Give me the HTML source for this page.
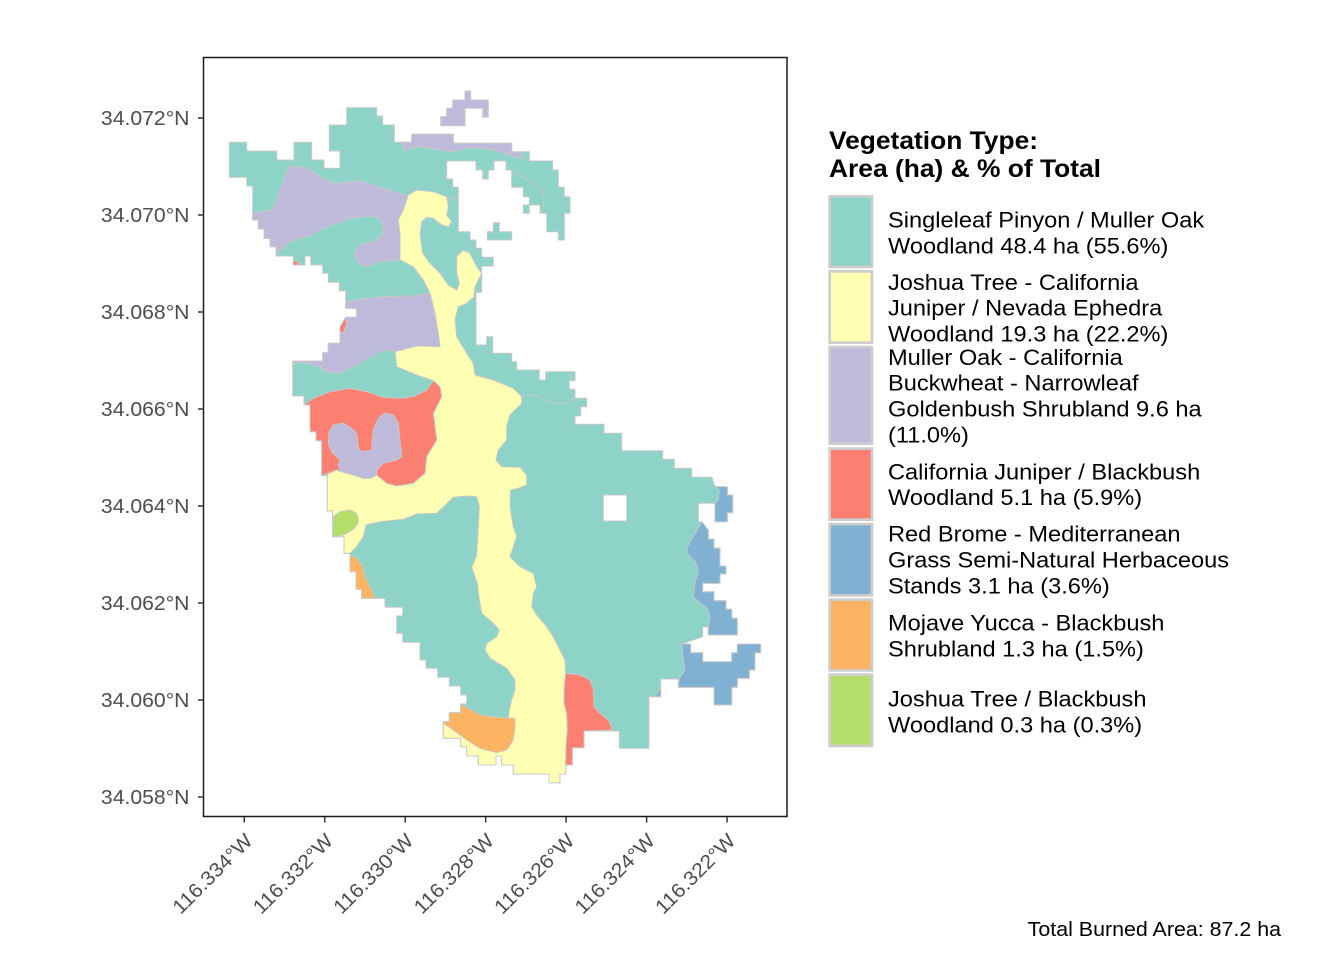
<!DOCTYPE html>
<html><head><meta charset="utf-8"><style>
html,body{margin:0;padding:0;background:#fff;}
svg{display:block;font-family:"Liberation Sans",Arial,sans-serif;}
</style></head><body>
<svg width="1344" height="960" viewBox="0 0 1344 960" xmlns="http://www.w3.org/2000/svg">
<rect width="1344" height="960" fill="#fff"/>
<g stroke="#C8C8C8" stroke-width="1" stroke-linejoin="round">
<!-- teal base -->
<polygon fill="#8DD3C7" points="229.3,142.3 246.7,142.3 246.7,151 276.7,151 276.7,160 294,160 294,142.3 311.7,142.3 311.7,160 324,160 324,168.3 340,168.3 340,151 329.3,151 329.3,125 346.7,125 346.7,107.7 376.7,107.7 376.7,116 382.7,116 382.7,125 394.3,125 394.3,142.3 411.7,142.3 411.7,134.3 453.3,134.3 453.3,143.3 511.7,143.3 511.7,151.7 529.3,151.7 529.3,161 552.7,161 552.7,170 558.3,170 558.3,187.3 564.3,187.3 564.3,196.7 570,196.7 570,213.3 564.3,213.3 564.3,240 558.3,240 558.3,231.7 546.7,231.7 546.7,213.3 540,213.3 540,205 529.3,205 529.3,196.7 523.3,196.7 523.3,187.3 511.7,187.3 511.7,170 506,170 506,161 494,161 494,170 488.3,170 488.3,179 482.7,179 482.7,170 476,170 476,161 446.7,161 446.7,179 452.7,179 452.7,187.3 458.3,187.3 458.3,231.7 470,231.7 470,240 476,240 476,248.3 481.7,248.3 481.7,257.3 493.3,257.3 493.3,266 481.7,266 481.7,292.3 476,292.3 476,345 486.7,345 486.7,336.7 492.7,336.7 492.7,353.3 511.7,353.3 511.7,361.7 516.7,361.7 516.7,370 539.3,370 539.3,380 545.7,380 545.7,371.7 575,371.7 575,380.7 569.3,380.7 569.3,389.3 575,389.3 575,398.3 586.7,398.3 586.7,406.7 580.7,406.7 580.7,416 575,416 575,424.3 604,424.3 604,433.3 621.7,433.3 621.7,450.7 662.7,450.7 662.7,459.3 674.3,459.3 674.3,468.3 691.7,468.3 691.7,477.3 711.7,477.3 715,486.7 727.3,486.7 727.3,495 732.7,495 732.7,512.7 727.3,512.7 727.3,521.7 715,521.7 715,503.3 698.3,503.3 698.3,521.7 701.7,521.7 708.3,530 708.3,539.3 714,539.3 714,548.3 720,548.3 720,566 726,566 726,574 720,574 720,583.3 702.7,583.3 702.7,591.7 714,591.7 714,600.7 726,600.7 726,609.3 731.7,609.3 731.7,618.3 737.3,618.3 737.3,635 708.3,635 708.3,626.7 702.7,626.7 702.7,636.7 681.7,644 690.7,644 690.7,652.7 702.7,652.7 702.7,661.7 731.7,661.7 731.7,652.7 737.3,652.7 737.3,644 760.7,644 760.7,652.7 755,652.7 755,670 749.3,670 749.3,678.3 737.3,678.3 737.3,687.3 731.7,687.3 731.7,705 714,705 714,687.3 678.3,687.3 678.3,679 660.7,679 660.7,696.7 649,696.7 649,748.3 619.3,748.3 619.3,731 584,731 584,747.7 572.3,747.7 572.3,765 565.7,765 565.7,774 560,774 560,782.7 549,782.7 549,774 513.3,774 513.3,765 501.7,765 501.7,756 496,756 496,765 478.3,765 478.3,756 466.7,756 466.7,746.7 460.7,746.7 460.7,738.3 443.3,738.3 443.3,721.7 449.3,721.7 449.3,712.7 460.7,712.7 460.7,704 466.7,704 466.7,695 460.7,695 460.7,686 449.3,686 449.3,677.3 437.7,677.3 437.7,668.3 426,668.3 426,660 420,660 420,642.3 402.7,642.3 402.7,633.3 396.7,633.3 396.7,616 402.7,616 402.7,607.3 385,607.3 385,598.3 361.7,598.3 361.7,589.3 356,589.3 356,571.7 350,571.7 350,553.3 344,553.3 344,536.7 332.7,536.7 332.7,510.7 327.3,510.7 327.3,475.7 321.7,475.7 321.7,440.7 316,440.7 316,431.7 310,431.7 310,405 304,405 304,396 292.7,396 292.7,361 322.7,361 322.7,352.7 328.3,352.7 328.3,343.3 340,343.3 340,326.7 345.7,317.3 356.7,317.3 356.7,308.3 345.7,308.3 345.7,290.7 339.3,290.7 339.3,282.3 328.3,282.3 328.3,273.3 322.7,273.3 322.7,265 310.7,265 310.7,256 305,256 305,265 293.3,265 293.3,256 276,256 276,246.7 270,246.7 270,238.3 264,238.3 264,229 258.3,229 258.3,220 252.7,220 252.7,186 246.7,186 246.7,177.3 229.3,177.3"/>
<!-- isolated teal bits -->
<polygon fill="#8DD3C7" points="523.3,205 529.3,205 529.3,213.3 523.3,213.3"/>
<polygon fill="#8DD3C7" points="493.3,222.7 499.3,222.7 499.3,231.7 511.7,231.7 511.7,240 487.3,240 487.3,231.7 493.3,231.7"/>
<!-- internal teal lines -->
<polyline fill="none" points="511.7,170 521.7,176.7 533.3,183.3 541.7,190 544,196.7 543.3,205 540.7,211.7"/>
<polyline fill="none" points="521,395 535,395 553.3,403.3 566.7,403.3 575,398.3 586.7,398.3"/>
<polyline fill="none" points="567.3,371.7 573.3,380.7"/>
<polyline fill="none" points="446.7,200 458.3,196.7"/>
<!-- purple -->
<polygon fill="#BEBADA" points="440.7,125.7 440.7,116.7 446.7,116.7 446.7,108.3 452.7,108.3 452.7,100 465,100 465,91 470.7,91 470.7,100 488.3,100 488.3,117.3 482.7,117.3 482.7,108.3 465,108.3 465,125.7"/>
<polygon fill="#BEBADA" points="401.7,142.3 411.7,142.3 411.7,134.3 453.3,134.3 453.3,143.3 511.7,143.3 511.7,151.7 520,152 522.7,158 516,157.5 505,153.5 490,149 475,147.5 466.7,148.3 456,151.5 445,151 430,148 416.7,146.7 404,150.5"/>
<polygon fill="#BEBADA" points="252.7,213.3 271.7,210 276.7,200 285,176.7 290,166 306.7,167.3 320,176.7 333.3,183.3 360,180.7 383.3,188.3 403.3,195 408.3,195 403.3,210 398.3,220 400,233.3 400,260 393.3,260 380,261.7 366.7,266.7 358.3,262.7 354,253.3 360,245 376.7,240 383.3,233.3 381.7,220 373.3,216 350,218.3 326.7,226.7 310,235 290,241.7 280,250 276,256 276,246.7 270,246.7 270,238.3 264,238.3 264,229 258.3,229 258.3,220 252.7,220"/>
<polygon fill="#BEBADA" points="345.7,301.7 380,296.7 413.3,296 430,293.3 435,313.3 438.3,333.3 440,346.7 430,349.3 416.7,346.7 400,351.7 383.3,350 366.7,358.3 353.3,366.7 338.3,373.3 326.7,371.7 320,366.7 300,361.7 293.3,365 293.3,361 322.7,361 322.7,352.7 328.3,352.7 328.3,343.3 340,343.3 340,326.7 345.7,317.3 356.7,317.3 356.7,308.3 345.7,308.3"/>
<!-- yellow -->
<polygon fill="#FFFFB3" points="408.3,195 416.7,190 433.3,191.7 446.7,196.7 448.3,206.7 446.7,215 451.7,221.7 448.3,226.7 441.7,225 433.3,218.3 426.7,217.3 421.7,221.7 420,233.3 422.7,253.3 430,263.3 440,273.3 448.3,285 456.7,290 459.3,283.3 456.7,273.3 456.7,256.7 463.3,250 470,253.3 476.7,266.7 481.7,273.3 478.3,280 475,286.7 474,296.7 466.7,303.3 458.3,306.7 455,320 456.7,336.7 466.7,353.3 473.3,363.3 475,375 493.3,380 513.3,388.3 521.7,396.7 521.7,403.3 510,415 506.7,426.7 506.7,440 498.3,450 496,460 501.7,466.7 520,467.3 526.7,475 526.7,485 518.3,488.3 510.7,490 510,506.7 513.3,526.7 516.7,536.7 513.3,546.7 510,556.7 520,566.7 533.3,573.3 536.7,586.7 533.3,593.3 531.7,606.7 536.7,615 546.7,626.7 553.3,636.7 560,650 565,660 565.7,673.3 564.3,686.7 564,703.3 566.7,713.3 567.3,730 566,746.7 565.7,765 565.7,774 560,774 560,782.7 549,782.7 549,774 513.3,774 513.3,765 501.7,765 501.7,756 496,756 496,765 478.3,765 478.3,756 466.7,756 466.7,746.7 460.7,746.7 460.7,738.3 443.3,738.3 443.3,721.7 449.3,721.7 449.3,712.7 460.7,712.7 460.7,704 480,715 496.7,717.3 508.3,718.3 509.3,710 511.7,700 515,690 515,680 506.7,668.3 490,658.3 485,650 486.7,643.3 496.7,636.7 499.3,630 491.7,621.7 481.7,613.3 479.3,600 477.3,583.3 471.7,567.3 476.7,555 478.3,526.7 479.3,506.7 476.7,496.7 466.7,496 453.3,497.3 436.7,513.3 416.7,514 403.3,519.3 380,521.7 366,525 363.3,536.7 356.7,546.7 350,553.3 344,553.3 344,536.7 332.7,536.7 332.7,510.7 327.3,510.7 327.3,475.7 328.3,473.3 336.7,470 341.7,471.7 353.3,475 363.3,478.3 370,478.3 376.7,475 386.7,483.3 396.7,486 413.3,483.3 425,473.3 426.7,456.7 431.7,448.3 436.7,440 435,426.7 433.3,413.3 436.7,406.7 441.7,396.7 440,386.7 433.3,380.7 416.7,375 396.7,366.7 395,351.7 416.7,346 440,346.7 438.3,333.3 435,313.3 430,293.3 423.3,280 413.3,266.7 400,260 400,233.3 398.3,220 403.3,210"/>
<!-- red -->
<polygon fill="#FB8072" points="304,405 313.3,398.3 330,391.7 350,388.3 366.7,391.7 383.3,397.3 400,398.3 413.3,396.7 426.7,390 433.3,380.7 440,386.7 441.7,396.7 436.7,406.7 433.3,413.3 435,426.7 436.7,440 431.7,448.3 426.7,456.7 425,473.3 413.3,483.3 396.7,486 386.7,483.3 376.7,475 370,478.3 363.3,478.3 353.3,475 341.7,471.7 336.7,470 328.3,473.3 321.7,475.7 321.7,440.7 316,440.7 316,431.7 310,431.7 310,405"/>
<polygon fill="#BEBADA" points="329.3,431.7 333.3,425 343.3,423.3 351.7,428.3 356.7,433.3 358.3,448.3 361.7,451.7 371.7,450 373.3,430 378.3,418.3 385,413.3 393.3,415 398.3,423.3 400,440 401.7,456.7 396.7,460 383.3,463.3 376.7,470 376.7,475 370,478.3 363.3,478.3 353.3,475 341.7,471.7 338.3,466 340,460 331.7,452 328.3,443.3"/>
<polygon fill="#FB8072" points="565.7,673.3 580,675 590,680 593.3,690 594,706.7 600,713.3 608.3,720 612.7,730 584,731 584,747.7 572.3,747.7 572.3,765 565.7,765 566,746.7 567.3,730 566.7,713.3 564,703.3 564.3,686.7"/>
<polygon fill="#FB8072" points="293.3,260 301.7,265 293.3,265"/>
<polygon fill="#FB8072" points="345.7,317.3 346.7,323.3 343.3,333.3 340,331.7 340,326.7"/>
<!-- blue -->
<polygon fill="#80B1D3" points="715,486.7 727.3,486.7 727.3,495 732.7,495 732.7,512.7 727.3,512.7 727.3,521.7 715,521.7 715,503.3 718.3,500 719.3,490"/>
<polygon fill="#80B1D3" points="701.7,521.7 708.3,530 708.3,539.3 714,539.3 714,548.3 720,548.3 720,566 726,566 726,574 720,574 720,583.3 702.7,583.3 702.7,591.7 714,591.7 714,600.7 726,600.7 726,609.3 731.7,609.3 731.7,618.3 737.3,618.3 737.3,635 708.3,635 708.3,626.7 710,616.7 706.7,608.3 698.3,601.7 693.3,596.7 695,583.3 698.3,570 695,561.7 688.3,555 686.7,548.3 695,533.3"/>
<polygon fill="#80B1D3" points="681.7,644 683.3,660 685,670 679.3,678.3 678.3,687.3 714,687.3 714,705 731.7,705 731.7,687.3 737.3,687.3 737.3,678.3 749.3,678.3 749.3,670 755,670 755,652.7 760.7,652.7 760.7,644 737.3,644 737.3,652.7 731.7,652.7 731.7,661.7 702.7,661.7 702.7,652.7 690.7,652.7 690.7,644"/>
<polygon fill="#80B1D3" points="655,696.7 660.7,688 660.7,696.7"/>
<!-- orange -->
<polygon fill="#FDB462" points="460.7,704 480,715 496.7,717.3 515,718.3 515,726.7 513.3,740 506.7,750 496.7,752.7 480,748.3 466.7,740 453.3,730 443.3,723.3 443.3,721.7 449.3,721.7 449.3,712.7 460.7,712.7"/>
<polygon fill="#FDB462" points="350,555 356.7,558.3 361.7,565 365,576.7 370,586.7 375,598.3 361.7,598.3 361.7,589.3 356,589.3 356,571.7 350,571.7"/>
<!-- green -->
<polygon fill="#B3DE69" points="333.3,516.7 340,511.7 350,510 356,513 358.3,518 358.3,523.3 353.3,529.3 343.3,535 332.7,536.7"/>
<!-- hole -->
<rect x="603.3" y="495" width="23.4" height="26" fill="#fff"/>
</g>
<!-- panel border -->
<rect x="203.5" y="57.5" width="583.5" height="759" fill="none" stroke="#1a1a1a" stroke-width="1.5"/>
<!-- ticks -->
<g stroke="#333" stroke-width="1.5">
<line x1="198" y1="118" x2="203.5" y2="118"/>
<line x1="198" y1="215" x2="203.5" y2="215"/>
<line x1="198" y1="312" x2="203.5" y2="312"/>
<line x1="198" y1="409" x2="203.5" y2="409"/>
<line x1="198" y1="506" x2="203.5" y2="506"/>
<line x1="198" y1="603" x2="203.5" y2="603"/>
<line x1="198" y1="700" x2="203.5" y2="700"/>
<line x1="198" y1="797" x2="203.5" y2="797"/>
<line x1="244.3" y1="817" x2="244.3" y2="822.5"/>
<line x1="324.8" y1="817" x2="324.8" y2="822.5"/>
<line x1="405.2" y1="817" x2="405.2" y2="822.5"/>
<line x1="485.7" y1="817" x2="485.7" y2="822.5"/>
<line x1="566.1" y1="817" x2="566.1" y2="822.5"/>
<line x1="646.6" y1="817" x2="646.6" y2="822.5"/>
<line x1="727" y1="817" x2="727" y2="822.5"/>
</g>
<!-- y labels -->
<g transform="translate(189.5,0) scale(1.06,1)" fill="#4D4D4D" font-size="20" text-anchor="end">
<text x="0" y="125">34.072°N</text>
<text x="0" y="222">34.070°N</text>
<text x="0" y="319">34.068°N</text>
<text x="0" y="416">34.066°N</text>
<text x="0" y="513">34.064°N</text>
<text x="0" y="610">34.062°N</text>
<text x="0" y="707">34.060°N</text>
<text x="0" y="804">34.058°N</text>
</g>
<!-- x labels -->
<g fill="#4D4D4D" font-size="20" text-anchor="end">
<g transform="translate(253.8,842) rotate(-45) scale(1.06,1)"><text>116.334°W</text></g>
<g transform="translate(334.3,842) rotate(-45) scale(1.06,1)"><text>116.332°W</text></g>
<g transform="translate(414.7,842) rotate(-45) scale(1.06,1)"><text>116.330°W</text></g>
<g transform="translate(495.2,842) rotate(-45) scale(1.06,1)"><text>116.328°W</text></g>
<g transform="translate(575.6,842) rotate(-45) scale(1.06,1)"><text>116.326°W</text></g>
<g transform="translate(656.1,842) rotate(-45) scale(1.06,1)"><text>116.324°W</text></g>
<g transform="translate(736.5,842) rotate(-45) scale(1.06,1)"><text>116.322°W</text></g>
</g>
<!-- legend title -->
<g transform="translate(829,0) scale(1.055,1)" font-size="25" font-weight="bold" fill="#000">
<text x="0" y="149">Vegetation Type:</text>
<text x="0" y="177">Area (ha) &amp; % of Total</text>
</g>
<!-- legend keys -->
<g stroke="#CDCDCD" stroke-width="2.7">
<rect x="829.65" y="196.35" width="42.3" height="70.6" fill="#8DD3C7"/>
<rect x="829.65" y="271.35" width="42.3" height="71.3" fill="#FFFFB3"/>
<rect x="829.65" y="347.05" width="42.3" height="96.6" fill="#BEBADA"/>
<rect x="829.65" y="448.65" width="42.3" height="71" fill="#FB8072"/>
<rect x="829.65" y="524.05" width="42.3" height="71.3" fill="#80B1D3"/>
<rect x="829.65" y="599.65" width="42.3" height="70.7" fill="#FDB462"/>
<rect x="829.65" y="674.65" width="42.3" height="71.3" fill="#B3DE69"/>
</g>
<!-- legend text -->
<g transform="translate(888,0) scale(1.05,1)" font-size="22.5" fill="#000">
<text x="0" y="227.3">Singleleaf Pinyon / Muller Oak</text>
<text x="0" y="253.3">Woodland 48.4 ha (55.6%)</text>
<text x="0" y="290">Joshua Tree - California</text>
<text x="0" y="315.7">Juniper / Nevada Ephedra</text>
<text x="0" y="341.7">Woodland 19.3 ha (22.2%)</text>
<text x="0" y="365">Muller Oak - California</text>
<text x="0" y="390.7">Buckwheat - Narrowleaf</text>
<text x="0" y="416.7">Goldenbush Shrubland 9.6 ha</text>
<text x="0" y="442.3">(11.0%)</text>
<text x="0" y="479.3">California Juniper / Blackbush</text>
<text x="0" y="505">Woodland 5.1 ha (5.9%)</text>
<text x="0" y="541.7">Red Brome - Mediterranean</text>
<text x="0" y="567.3">Grass Semi-Natural Herbaceous</text>
<text x="0" y="593.3">Stands 3.1 ha (3.6%)</text>
<text x="0" y="630.7">Mojave Yucca - Blackbush</text>
<text x="0" y="656.7">Shrubland 1.3 ha (1.5%)</text>
<text x="0" y="706.7">Joshua Tree / Blackbush</text>
<text x="0" y="732.3">Woodland 0.3 ha (0.3%)</text>
</g>
<!-- caption -->
<g transform="translate(1281,936) scale(1.07,1)" font-size="20" fill="#000" text-anchor="end">
<text x="0" y="0">Total Burned Area: 87.2 ha</text>
</g>
</svg>
</body></html>
